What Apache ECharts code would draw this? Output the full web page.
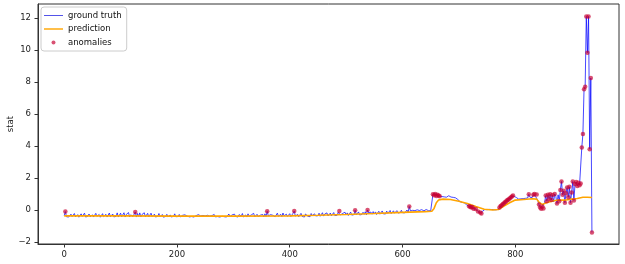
<!DOCTYPE html>
<html><head><meta charset="utf-8">
<script src="https://cdn.jsdelivr.net/npm/echarts@6/dist/echarts.min.js"></script>
<style>html,body{margin:0;padding:0;background:#fff}#c{width:625px;height:264px}</style>
</head><body><div id="c"></div>
<script>
// ground truth, one value every 2 units starting at x = 0
var truthStart = 0, truthStep = 2;
var truthValues = [
-0.35,-0.10,-0.42,-0.30,-0.44,-0.38,-0.26,-0.41,-0.35,-0.22,-0.43,-0.36,-0.29,-0.45,-0.34,-0.24,-0.40,-0.37,-0.20,-0.44,-0.33,-0.39,-0.25,-0.42,-0.36,
-0.30,-0.44,-0.38,-0.21,-0.40,-0.35,-0.28,-0.45,-0.36,-0.23,-0.41,-0.38,-0.27,-0.44,-0.35,-0.19,-0.42,-0.37,-0.25,-0.43,-0.32,-0.40,-0.18,-0.44,-0.36,
-0.20,-0.42,-0.33,-0.17,-0.44,-0.28,-0.39,-0.16,-0.43,-0.30,-0.19,-0.41,-0.35,-0.12,-0.44,-0.22,-0.40,-0.18,-0.43,-0.28,-0.38,-0.17,-0.42,-0.31,-0.21,
-0.43,-0.34,-0.20,-0.41,-0.37,-0.26,-0.44,-0.33,-0.39,-0.22,-0.42,-0.36,-0.28,-0.45,-0.35,-0.40,-0.27,-0.43,-0.37,-0.31,-0.44,-0.35,-0.39,-0.24,-0.42,
-0.36,-0.41,-0.28,-0.43,-0.37,-0.33,-0.45,-0.30,-0.40,-0.38,-0.26,-0.43,-0.36,-0.41,-0.32,-0.44,-0.38,-0.35,-0.42,-0.29,-0.40,-0.37,-0.44,-0.34,-0.39,
-0.37,-0.43,-0.33,-0.41,-0.38,-0.45,-0.35,-0.40,-0.28,-0.43,-0.37,-0.41,-0.33,-0.44,-0.36,-0.39,-0.27,-0.42,-0.38,-0.44,-0.34,-0.25,-0.41,-0.37,-0.30,
-0.42,-0.26,-0.40,-0.35,-0.44,-0.29,-0.41,-0.37,-0.22,-0.43,-0.36,-0.31,-0.44,-0.24,-0.39,-0.42,-0.30,-0.40,-0.21,-0.43,-0.34,-0.27,-0.41,-0.45,-0.32,
-0.40,-0.28,-0.43,-0.24,-0.41,-0.08,-0.37,-0.44,-0.29,-0.40,-0.33,-0.22,-0.42,-0.35,-0.20,-0.39,-0.44,-0.27,-0.41,-0.19,-0.36,-0.43,-0.26,-0.40,-0.30,
-0.23,-0.41,-0.33,-0.20,-0.07,-0.38,-0.43,-0.28,-0.42,-0.34,-0.21,-0.40,-0.36,-0.44,-0.25,-0.19,-0.39,-0.31,-0.42,-0.22,-0.35,-0.40,-0.24,-0.37,-0.28,
-0.36,-0.20,-0.39,-0.27,-0.17,-0.38,-0.25,-0.34,-0.18,-0.37,-0.29,-0.19,-0.36,-0.26,-0.16,-0.35,-0.23,-0.33,-0.15,-0.07,-0.31,-0.36,-0.21,-0.32,-0.14,
-0.31,-0.18,-0.34,-0.22,-0.13,-0.32,-0.20,-0.29,-0.02,-0.30,-0.24,-0.12,-0.31,-0.19,-0.28,-0.14,-0.27,-0.11,-0.30,0.00,-0.18,-0.29,-0.13,-0.26,-0.10,
-0.25,-0.12,-0.28,-0.16,-0.08,-0.26,-0.14,-0.06,-0.24,-0.15,-0.25,-0.07,-0.21,-0.12,-0.03,-0.22,-0.15,-0.05,-0.20,-0.10,-0.04,-0.19,-0.08,-0.16,-0.02,
-0.17,-0.05,-0.18,-0.09,0.00,-0.15,0.22,-0.06,-0.14,-0.02,-0.13,-0.04,-0.15,0.01,-0.11,-0.03,-0.14,0.02,-0.10,-0.05,-0.12,0.03,-0.09,-0.04,-0.08,
-0.05,-0.08,0.98,0.92,1.00,0.88,0.95,0.90,0.86,0.93,0.84,0.88,0.82,0.86,0.80,0.83,0.89,0.78,0.81,0.75,0.79,0.72,0.76,0.70,0.66,
0.58,0.52,0.55,0.47,0.42,0.45,0.36,0.30,0.33,0.24,0.20,0.15,0.18,0.08,0.02,0.06,-0.05,-0.10,-0.03,-0.15,-0.22,-0.08,-0.02,0.03,-0.01,
0.02,-0.02,0.04,0.00,0.03,-0.03,0.02,0.05,0.01,0.04,0.06,0.15,0.25,0.30,0.38,0.42,0.50,0.55,0.62,0.66,0.72,0.78,0.85,0.90,0.86,
0.86,0.78,0.72,0.68,0.74,0.70,0.66,0.71,0.68,0.73,0.69,0.75,0.98,0.80,0.72,0.78,0.95,1.00,0.85,0.97,0.60,0.35,0.15,0.08,0.22,
0.10,0.45,0.90,0.55,0.95,0.70,0.98,0.62,0.93,0.50,1.00,0.85,0.40,0.95,0.55,1.25,1.78,0.95,1.20,0.45,1.05,1.40,0.80,1.45,0.46,
1.10,1.78,0.60,1.62,1.75,1.50,1.70,1.55,1.65,3.90,4.75,7.55,7.70,12.10,9.83,12.10,3.80,8.25,-1.40
];
// prediction (smooth), read at these x positions
var predX = [0,100,200,300,400,450,500,550,600,640,652,656,660,664,672,685,700,715,730,745,760,770,780,790,800,815,830,838,843,848,855,865,875,890,900,910,920,928,936];
var predValues = [-0.37,-0.37,-0.38,-0.38,-0.37,-0.33,-0.28,-0.22,-0.15,-0.10,-0.08,0.10,0.45,0.62,0.68,0.66,0.55,0.40,0.22,0.05,0.00,0.03,0.25,0.45,0.62,0.66,0.70,0.68,0.45,0.35,0.45,0.55,0.62,0.62,0.68,0.72,0.80,0.80,0.78];
// anomalies: x positions (values are the ground truth at those x)
var anomalyX = [2,126,360,408,488,516,538,612,654,656,658,660,662,664,666,718,720,722,724,726,730,734,738,740,
772,774,776,778,780,782,784,786,788,790,792,794,796,824,832,834,838,842,844,846,848,850,854,856,858,860,862,864,866,870,874,878,880,882,884,886,888,890,892,894,896,898,900,902,904,906,908,910,912,914,916,918,920,922,924,926,928,930,932,934,936];
var xTicks = [0,200,400,600,800];
var yTicks = [-2,0,2,4,6,8,10,12];

var truthData = truthValues.map(function(v,i){return [truthStart + i*truthStep, v];});
var predData = predValues.map(function(v,i){return [predX[i], v];});
var anomalyData = anomalyX.map(function(x){return [x, truthValues[(x-truthStart)/truthStep]];});

var FONT = 'DejaVu Sans';
function fmt(v){return String(v).replace('-', '\u2212');}
var chart = echarts.init(document.getElementById('c'), null, {renderer:'canvas'});
chart.setOption({
  animation:false,
  backgroundColor:'#fff',
  grid:{left:38, top:4, width:581, height:240, outerBoundsMode:'none', containLabel:false, show:true, borderColor:'#333', borderWidth:1, backgroundColor:'transparent'},
  xAxis:{type:'value', min:-46.5, max:984,
    axisLine:{show:true, onZero:false, lineStyle:{color:'#333', width:1}},
    axisTick:{show:true, inside:false, length:3.5, customValues:xTicks, lineStyle:{color:'#333'}},
    axisLabel:{show:true, customValues:xTicks, margin:6, fontFamily:FONT, fontSize:8.5, color:'#222', formatter:fmt},
    splitLine:{show:false}},
  yAxis:{type:'value', min:-2.125, max:12.875, name:'stat', nameLocation:'middle', nameGap:23, nameMoveOverlap:false,
    nameTextStyle:{fontFamily:FONT, fontSize:8.5, color:'#222'},
    axisLine:{show:true, onZero:false, lineStyle:{color:'#333', width:1}},
    axisTick:{show:true, inside:false, length:3.5, customValues:yTicks, lineStyle:{color:'#333'}},
    axisLabel:{show:true, customValues:yTicks, margin:7, fontFamily:FONT, fontSize:8.5, color:'#222', formatter:fmt},
    splitLine:{show:false}},
  legend:{show:true, orient:'vertical', left:41, top:7, itemWidth:19, itemHeight:4, itemGap:2.5,
    padding:[3,5,3,3], backgroundColor:'rgba(255,255,255,0.85)', borderColor:'#ccc', borderWidth:1, borderRadius:3,
    textStyle:{fontFamily:FONT, fontSize:8.5, color:'#111', lineHeight:11},
    data:[
      {name:'ground truth', icon:'path://M0,0h20v1h-20z', itemStyle:{color:'#4a4ae8'}},
      {name:'prediction', icon:'path://M0,0h20v1.5h-20z', itemStyle:{color:'#ffa500'}},
      {name:'anomalies', icon:'circle'}]},
  series:[
    {name:'ground truth', type:'line', data:truthData, symbol:'none', showSymbol:false, z:2,
      lineStyle:{color:'rgba(0,0,255,0.72)', width:1}, itemStyle:{color:'#4a4ae8'}},
    {name:'prediction', type:'line', data:predData, symbol:'none', showSymbol:false, z:3,
      lineStyle:{color:'#ffa500', width:1.6}, itemStyle:{color:'#ffa500'}},
    {name:'anomalies', type:'scatter', data:anomalyData, symbol:'circle', symbolSize:4.5, z:4,
      itemStyle:{color:'rgba(200,0,50,0.85)'}}
  ]
});
</script></body></html>
